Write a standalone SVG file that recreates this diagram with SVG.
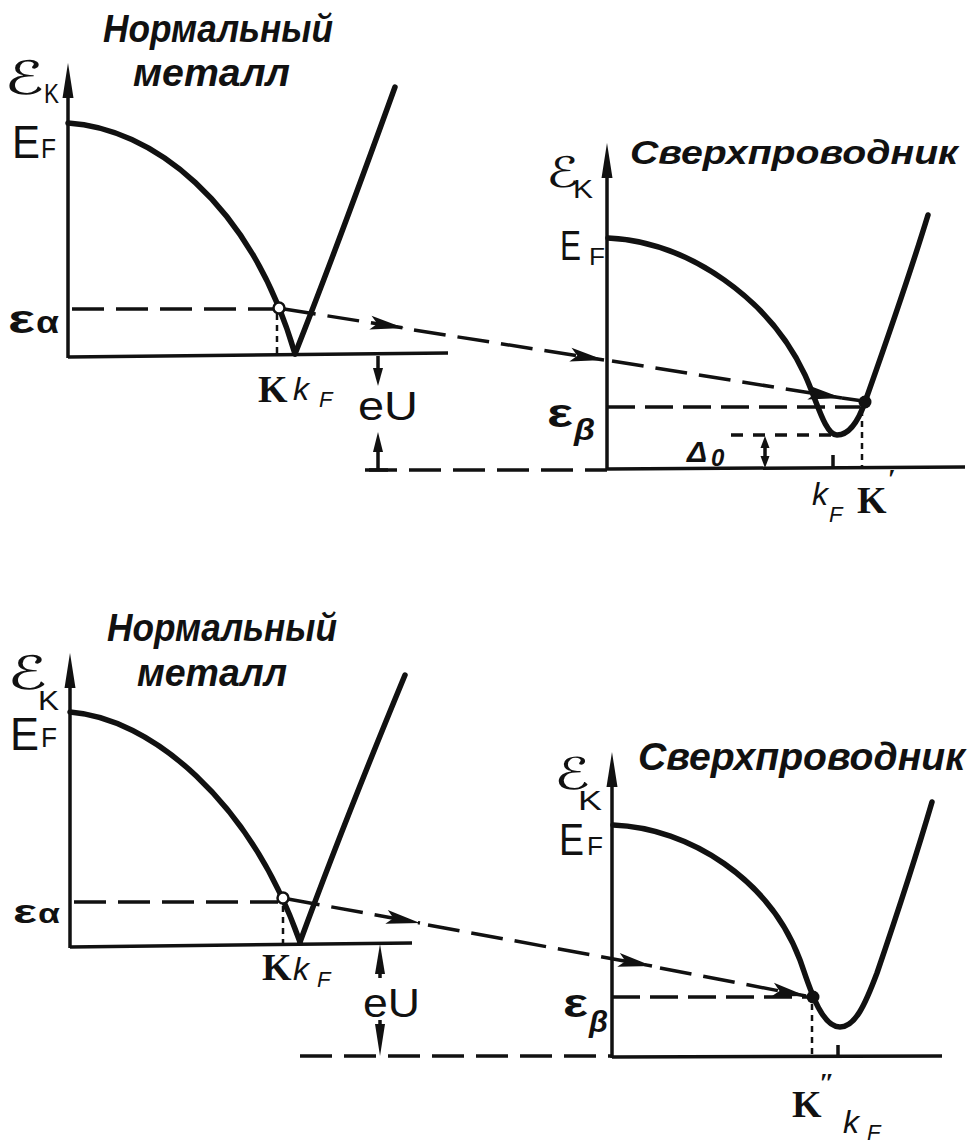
<svg xmlns="http://www.w3.org/2000/svg" width="974" height="1144" viewBox="0 0 974 1144">
<style>
.axis{stroke:#111;stroke-width:3.5;fill:none}
.curve{stroke:#111;stroke-width:5.5;fill:none;stroke-linecap:round;stroke-linejoin:round}
.dash{stroke:#111;stroke-width:3.5;fill:none;stroke-dasharray:32 12}
.dashs{stroke:#111;stroke-width:3.5;fill:none;stroke-dasharray:28 10}
.dot{stroke:#111;stroke-width:2.5;fill:none;stroke-dasharray:6 5}
.head{fill:#111;stroke:none}
.t{font-family:"Liberation Sans","DejaVu Sans",sans-serif;fill:#111}
.ti{font-family:"Liberation Sans","DejaVu Sans",sans-serif;font-style:italic;fill:#111}
.tt{font-family:"Liberation Sans","DejaVu Sans",sans-serif;font-style:italic;font-weight:bold;fill:#111}
.ts{font-family:"DejaVu Sans","Liberation Sans",sans-serif;fill:#111}
.tb{font-family:"Liberation Serif",serif;font-weight:bold;fill:#111}
</style>
<defs>
<marker id="ah" markerUnits="userSpaceOnUse" viewBox="-36 -8 38 16" refX="0" refY="0" markerWidth="38" markerHeight="16" orient="auto">
<path d="M0,0 L-34,-7 L-27,0 L-34,7 Z" fill="#111"/>
</marker>
</defs>
<rect width="974" height="1144" fill="#fff"/>

<!-- ===== Top-left: normal metal ===== -->
<g id="tl-normal-metal">
<text class="tt" x="103" y="42" font-size="38" textLength="230" lengthAdjust="spacingAndGlyphs">Нормальный</text>
<text class="tt" x="133" y="86" font-size="38" textLength="157" lengthAdjust="spacingAndGlyphs">металл</text>
<line class="axis" x1="68" y1="90" x2="68" y2="358"/>
<polygon class="head" points="68,63 73.5,98 62.5,98"/>
<line class="axis" x1="68" y1="357" x2="448" y2="353"/>
<path class="curve" d="M68,123 C150,128 250,200 295,354"/>
<path class="curve" d="M295,354 Q338,245 395,87"/>
<text class="ts" x="4" y="94" font-size="46" textLength="40" lengthAdjust="spacingAndGlyphs">ℰ</text>
<text class="t" x="44" y="103" font-size="28" textLength="15" lengthAdjust="spacingAndGlyphs">K</text>
<text class="t" x="12" y="158" font-size="46" textLength="28" lengthAdjust="spacingAndGlyphs">E</text>
<text class="t" x="41" y="158" font-size="28" textLength="15" lengthAdjust="spacingAndGlyphs">F</text>
<text class="t" x="8" y="333" font-size="40" font-weight="bold" textLength="27" lengthAdjust="spacingAndGlyphs">ε</text>
<text class="t" x="36" y="333" font-size="32" font-weight="bold" textLength="23" lengthAdjust="spacingAndGlyphs">α</text>
<text class="tb" x="258" y="402" font-size="38">K</text>
<text class="ti" x="293" y="400" font-size="32">k</text>
<text class="ti" x="319" y="407" font-size="22">F</text>
<text class="t" x="358" y="420" font-size="40" textLength="60" lengthAdjust="spacingAndGlyphs">eU</text>
</g>

<!-- ===== Top-right: superconductor ===== -->
<g id="tr-superconductor">
<text class="tt" x="630" y="164" font-size="34" textLength="328" lengthAdjust="spacingAndGlyphs">Сверхпроводник</text>
<line class="axis" x1="607" y1="170" x2="607" y2="470"/>
<polygon class="head" points="607,143 612.5,178 601.5,178"/>
<line class="axis" x1="607" y1="469" x2="965" y2="467"/>
<path class="curve" d="M608,238 C690,242 770,300 805,375 C817,401 825,435 837,435 C849,435 858,422 865,402 C872,382 905,290 928,215"/>
<circle cx="865" cy="402" r="6.5" fill="#111"/>
<text class="ts" x="546" y="187" font-size="42" textLength="33" lengthAdjust="spacingAndGlyphs">ℰ</text>
<text class="t" x="573" y="198" font-size="26" textLength="20" lengthAdjust="spacingAndGlyphs">K</text>
<text class="t" x="560" y="260" font-size="42" textLength="21" lengthAdjust="spacingAndGlyphs">E</text>
<text class="t" x="589" y="265" font-size="24" textLength="16" lengthAdjust="spacingAndGlyphs">F</text>
<text class="t" x="547" y="427" font-size="40" font-weight="bold" textLength="26" lengthAdjust="spacingAndGlyphs">ε</text>
<text class="ti" x="574" y="440" font-size="30" font-weight="bold" textLength="21" lengthAdjust="spacingAndGlyphs">β</text>
<text class="ti" x="687" y="462" font-size="30" font-weight="bold">Δ</text>
<text class="ti" x="711" y="466" font-size="24" font-weight="bold">0</text>
<line class="axis" x1="833" y1="455" x2="833" y2="468"/>
<line class="dot" x1="862" y1="410" x2="862" y2="467"/>
<text class="ti" x="812" y="505" font-size="32">k</text>
<text class="ti" x="829" y="522" font-size="22">F</text>
<text class="tb" x="857" y="513" font-size="38">K</text>
<text class="tb" x="888" y="488" font-size="28">′</text>
<line class="axis" x1="765" y1="445" x2="765" y2="460"/>
<polygon class="head" points="765,436 769.5,448 760.5,448"/>
<polygon class="head" points="765,468 769.5,456 760.5,456"/>
</g>

<!-- ===== Bottom-left: normal metal ===== -->
<g id="bl-normal-metal">
<text class="tt" x="107" y="641" font-size="38" textLength="230" lengthAdjust="spacingAndGlyphs">Нормальный</text>
<text class="tt" x="137" y="686" font-size="38" textLength="150" lengthAdjust="spacingAndGlyphs">металл</text>
<line class="axis" x1="70" y1="680" x2="70" y2="948"/>
<polygon class="head" points="70,653 75.5,688 64.5,688"/>
<line class="axis" x1="70" y1="947" x2="412" y2="943"/>
<path class="curve" d="M70,712 C150,718 250,800 300,942"/>
<path class="curve" d="M300,942 Q343,825 405,675"/>
<text class="ts" x="7" y="689" font-size="46" textLength="40" lengthAdjust="spacingAndGlyphs">ℰ</text>
<text class="t" x="38" y="710" font-size="28" textLength="21" lengthAdjust="spacingAndGlyphs">K</text>
<text class="t" x="10" y="750" font-size="46" textLength="29" lengthAdjust="spacingAndGlyphs">E</text>
<text class="t" x="41" y="747" font-size="28" textLength="16" lengthAdjust="spacingAndGlyphs">F</text>
<text class="t" x="13" y="923" font-size="34" font-weight="bold" textLength="24" lengthAdjust="spacingAndGlyphs">ε</text>
<text class="t" x="38" y="923" font-size="28" font-weight="bold" textLength="22" lengthAdjust="spacingAndGlyphs">α</text>
<text class="tb" x="262" y="980" font-size="38">K</text>
<text class="ti" x="293" y="980" font-size="32">k</text>
<text class="ti" x="317" y="987" font-size="22">F</text>
<text class="t" x="363" y="1017" font-size="40" textLength="57" lengthAdjust="spacingAndGlyphs">eU</text>
</g>

<!-- ===== Bottom-right: superconductor ===== -->
<g id="br-superconductor">
<text class="tt" x="638" y="770" font-size="38" textLength="327" lengthAdjust="spacingAndGlyphs">Сверхпроводник</text>
<line class="axis" x1="612" y1="780" x2="612" y2="1058"/>
<polygon class="head" points="612,752 617.5,787 606.5,787"/>
<line class="axis" x1="612" y1="1057" x2="942" y2="1056"/>
<path class="curve" d="M613,825 C690,828 770,880 800,960 C808,982 820,1027 840,1027 C855,1027 865,1005 877,973 C890,935 915,860 932,802"/>
<circle cx="813" cy="997" r="6.5" fill="#111"/>
<text class="ts" x="554" y="789" font-size="44" textLength="36" lengthAdjust="spacingAndGlyphs">ℰ</text>
<text class="t" x="578" y="810" font-size="28" textLength="24" lengthAdjust="spacingAndGlyphs">K</text>
<text class="t" x="559" y="855" font-size="44" textLength="25" lengthAdjust="spacingAndGlyphs">E</text>
<text class="t" x="587" y="855" font-size="26" textLength="16" lengthAdjust="spacingAndGlyphs">F</text>
<text class="t" x="563" y="1017" font-size="40" font-weight="bold" textLength="25" lengthAdjust="spacingAndGlyphs">ε</text>
<text class="ti" x="589" y="1032" font-size="30" font-weight="bold" textLength="19" lengthAdjust="spacingAndGlyphs">β</text>
<line class="dot" x1="812" y1="1004" x2="812" y2="1056"/>
<line class="axis" x1="838" y1="1045" x2="838" y2="1057"/>
<text class="tb" x="792" y="1117" font-size="38">K</text>
<text class="tb" x="819" y="1092" font-size="28">″</text>
<text class="ti" x="843" y="1133" font-size="32">k</text>
<text class="ti" x="867" y="1140" font-size="22">F</text>
</g>

<!-- ===== Connectors: tunnelling arrows, levels, eU ===== -->
<g id="connectors">
<line class="dash" x1="72" y1="309" x2="274" y2="309"/>
<line class="dot" x1="277" y1="314" x2="277" y2="354"/>
<path class="dash" d="M284,309 L404,328" marker-end="url(#ah)"/>
<path class="dash" d="M414,330 L604,360" marker-end="url(#ah)"/>
<path class="dash" d="M612,361 L842,398" marker-end="url(#ah)"/>
<line class="axis" x1="842" y1="398" x2="863" y2="401"/>
<circle cx="279" cy="308" r="5.5" fill="#fff" stroke="#111" stroke-width="2.5"/>
<line class="dashs" x1="607" y1="407" x2="860" y2="407"/>
<line class="dash" x1="731" y1="435" x2="833" y2="435" style="stroke-dasharray:12 10"/>
<line class="dash" x1="365" y1="470" x2="607" y2="470"/>
<line class="axis" x1="378" y1="356" x2="378" y2="372"/>
<polygon class="head" points="378,386 373,368 383,368"/>
<polygon class="head" points="378,432 373,452 383,452"/>
<line class="axis" x1="378" y1="448" x2="378" y2="470"/>
<line class="axis" x1="369" y1="470" x2="388" y2="470"/>

<line class="dash" x1="74" y1="902" x2="278" y2="902"/>
<line class="dot" x1="283" y1="906" x2="283" y2="944"/>
<path class="dash" d="M288,899 L420,923" marker-end="url(#ah)"/>
<path class="dash" d="M428,925 L652,966" marker-end="url(#ah)"/>
<path class="dash" d="M660,968 L806,996" marker-end="url(#ah)"/>
<circle cx="283" cy="898" r="5.5" fill="#fff" stroke="#111" stroke-width="2.5"/>
<line class="dashs" x1="612" y1="997" x2="808" y2="997"/>
<line class="dash" x1="300" y1="1056" x2="612" y2="1056"/>
<polygon class="head" points="380,944 375,974 385,974"/>
<line class="axis" x1="380" y1="970" x2="380" y2="978"/>
<line class="axis" x1="380" y1="1020" x2="380" y2="1030"/>
<polygon class="head" points="380,1056 375,1024 385,1024"/>
</g>
</svg>
